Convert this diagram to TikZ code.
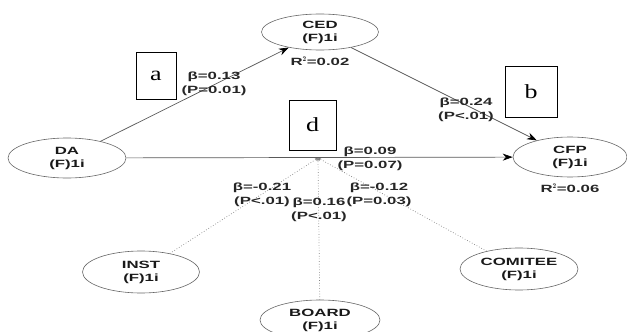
\documentclass[tikz,border=0pt]{standalone}
\usepackage{fontspec}
\usetikzlibrary{arrows.meta,positioning,shapes.geometric}
\newfontfamily\pathfont[FakeStretch=1.6]{Liberation Sans}
\newfontfamily\boxfont[FakeStretch=1.3]{Liberation Serif}
\definecolor{edgegray}{gray}{0.35}
\definecolor{rimgray}{gray}{0.4}

\tikzset{
  latent/.style={ellipse,draw=rimgray,line width=0.6pt,inner sep=0pt,align=center,
    text=black!90,font=\pathfont\bfseries\fontsize{10.5}{13}\selectfont},
  coef/.style={align=center,inner sep=0pt,text=black!85,
    font=\pathfont\bfseries\fontsize{10.5}{14}\selectfont},
  boxlabel/.style={draw=black,line width=0.8pt,inner sep=0pt,
    font=\boxfont\fontsize{20}{20}\selectfont},
  effect/.style={draw=edgegray,line width=0.7pt,-{Stealth[length=10pt,width=7pt,color=black]}},
  moder/.style={draw=gray,dotted,line width=0.7pt,-{Stealth[length=3pt,width=3pt]}}
}

\begin{document}
\begin{tikzpicture}[x=1pt,y=-1pt]
    \useasboundingbox (0,0) rectangle (627,332);

    % constructs
    \node   [latent,minimum width=118pt,minimum height=40pt] (DA)  at (67,158)  {DA\\(F)1i};
    \node   [latent,minimum width=117pt,minimum height=36pt] (CED) at (320,32)  {CED\\(F)1i};
    \node   [latent,minimum width=114pt,minimum height=40pt] (CFP) at (570,157) {CFP\\(F)1i};
    \node   [latent,minimum width=117pt,minimum height=42pt] (INST) at (141,272) {INST\\(F)1i};
    \node   [latent,minimum width=120pt,minimum height=40pt] (BOARD) at (320,320) {BOARD\\(F)1i};
    \node   [latent,minimum width=118pt,minimum height=42pt] (COMITEE) at (519,269) {COMITEE\\(F)1i};

    \node   [coef,below=6pt of CED]  (r2ced) {R$^{\mathbf{2}}$=0.02};
    \node   [coef,below=6pt of CFP]  (r2cfp) {R$^{\mathbf{2}}$=0.06};

    % paths
    \coordinate (hub) at (318,158);
    \path   (DA) edge [effect] (CED)
            (CED) edge [effect] (CFP)
            (DA) edge [effect] (CFP);
    \draw   [moder] (INST) -- (hub);
    \draw   [moder] (BOARD) -- (hub);
    \draw   [moder] (COMITEE) -- (hub);

    % coefficients
    \node   [coef] (b13) at (214,84)  {β=0.13\\(P=0.01)};
    \node   [coef] (b24) at (466,110) {β=0.24\\(P<.01)};
    \node   [coef] (b09) at (370,159) {β=0.09\\(P=0.07)};
    \node   [coef] (b21) at (262,195) {β=-0.21\\(P<.01)};
    \node   [coef] (b16) at (319,210) {β=0.16\\(P<.01)};
    \node   [coef] (b12) at (379,195) {β=-0.12\\(P=0.03)};

    % boxed letters
    \node   [boxlabel,minimum width=40pt,minimum height=47pt] (boxa) at (156,75.5) {a};
    \node   [boxlabel,minimum width=52pt,minimum height=51pt] (boxb) at (531,91.5) {b};
    \node   [boxlabel,minimum width=47pt,minimum height=50pt] (boxd) at (312.5,125) {d};
\end{tikzpicture}
\end{document}
